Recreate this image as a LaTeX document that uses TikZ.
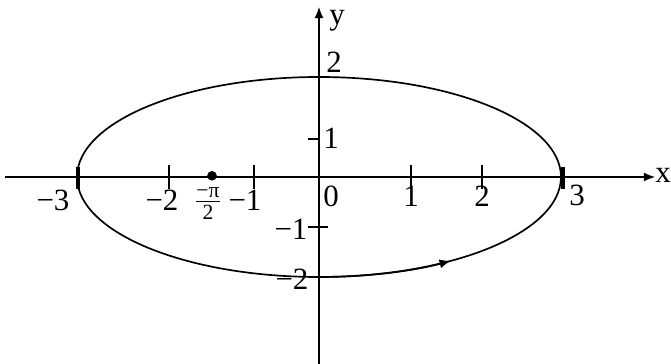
\documentclass[tikz,border=0pt]{standalone}
\usepackage{amsmath}
\usepackage{fontspec}
\setmainfont{Liberation Serif}
\usetikzlibrary{arrows.meta}
\tikzset{lbl/.style={font=\fontsize{22}{25}\selectfont, inner sep=0pt}}
\begin{document}
\begin{tikzpicture}[>={Latex[length=8pt,width=6.5pt]}, line width=0.9pt]
	\useasboundingbox (-7.975,-4.675) rectangle (8.8,4.425);
	\coordinate (xl) at (-7.85,0);
	\coordinate (xr) at (8.4,0);
	\coordinate (yb) at (0,-4.675);
	\coordinate (yt) at (0,4.25);
	\draw[->] (xl) -- (xr);
	\draw[->] (yb) -- (yt);
	\draw[line width=1.2pt] (0,0) ellipse (6.05 and 2.5);
	\draw[line width=1.2pt, ->] (0,-2.5) arc (-90:-57:6.05 and 2.5);
	% ticks on the x axis
	\foreach \x in {-3.75,-1.625,2.3,4.075}
		\draw (\x,-0.3) -- (\x,0.3);
	\draw[line width=2.4pt] (-6.025,-0.3) -- (-6.025,0.25);
	\draw[line width=2.4pt] (6.1,-0.3) -- (6.1,0.25);
	% ticks on the y axis
	\draw[line width=2pt] (-0.25,2.5) -- (0.25,2.5);
	\draw (-0.28,0.95) -- (0,0.95);
	\draw (-0.28,-1.25) -- (0.23,-1.25);
	\draw (-0.25,-2.5) -- (0,-2.5);
	\fill (-2.675,0.03) circle (0.12);
	\node[lbl] (xm3) at (-6.65,-0.575) {−3};
	\node[lbl] (xm2) at (-3.925,-0.575) {−2};
	\node[lbl] (xpi) at (-2.775,-0.66) {$\frac{\text{−π}}{\text{2}}$};
	\node[lbl] (xm1) at (-1.85,-0.575) {−1};
	\node[lbl] (o) at (0.3,-0.475) {0};
	\node[lbl] (x1) at (2.3,-0.475) {1};
	\node[lbl] (x2) at (4.075,-0.475) {2};
	\node[lbl] (x3) at (6.45,-0.45) {3};
	\node[lbl] (y2) at (0.375,2.875) {2};
	\node[lbl] (y1) at (0.3,0.975) {1};
	\node[lbl] (ym1) at (-0.7,-1.3) {−1};
	\node[lbl] (ym2) at (-0.675,-2.55) {−2};
	\node[lbl, anchor=base] (ylab) at (0.45,3.8) {y};
	\node[lbl] (xlab) at (8.6,0.05) {x};
\end{tikzpicture}
\end{document}
